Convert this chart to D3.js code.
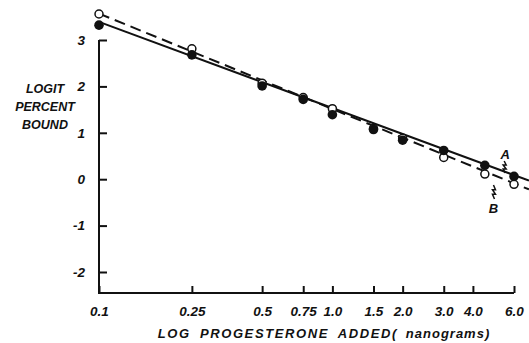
<!DOCTYPE html>
<html>
<head>
<meta charset="utf-8">
<script src="https://cdn.jsdelivr.net/npm/d3@7"></script>
<style>
  body { margin: 0; background: #fff; }
  text { font-family: "Liberation Sans", Arial, sans-serif; font-weight: bold; font-style: italic; fill: #111; }
</style>
</head>
<body>
<div id="chart"></div>
<script>
// doses (ng) and logit values
var doses = [0.1, 0.25, 0.5, 0.75, 1.0, 1.5, 2.0, 3.0, 4.5, 6.0];
var seriesA = [3.32, 2.68, 2.01, 1.72, 1.39, 1.07, 0.84, 0.62, 0.30, 0.06]; // filled
var seriesB = [3.56, 2.81, 2.07, 1.76, 1.52, 1.09, 0.88, 0.47, 0.11, -0.11]; // open
var fitA = [[0.1, 3.39], [6.95, -0.03]];
var fitB = [[0.1, 3.57], [6.95, -0.22]];
var xTicks = [0.1, 0.25, 0.5, 0.75, 1.0, 1.5, 2.0, 3.0, 4.0, 6.0];
var xTickLabels = ["0.1", "0.25", "0.5", "0.75", "1.0", "1.5", "2.0", "3.0", "4.0", "6.0"];
var yTicks = [3, 2, 1, 0, -1, -2];
var yTickLabels = ["3", "2", "1", "0", "-1", "-2"];

var W = 529, H = 343;
var svg = d3.select("#chart").append("svg").attr("width", W).attr("height", H);

var x = d3.scaleLog().domain([0.1, 6]).range([99, 514]);
var y = d3.scaleLinear().domain([-2, 3]).range([272, 40]);
var yBottom = 293;

// axes
var gx = svg.append("g").attr("transform", "translate(0," + yBottom + ")");
gx.call(d3.axisBottom(x).tickValues(xTicks).tickSize(-7).tickFormat(function (d, i) { return xTickLabels[i]; }).tickPadding(12));
var gy = svg.append("g").attr("transform", "translate(99,0)");
gy.call(d3.axisLeft(y).tickValues(yTicks).tickSize(-8).tickFormat(function (d, i) { return yTickLabels[i]; }).tickPadding(14));

[gx, gy].forEach(function (g) {
  g.select(".domain").remove();
  g.selectAll(".tick line").attr("stroke", "#111").attr("stroke-width", 2);
  g.selectAll(".tick text").attr("font-size", 13.5).style("font-family", "Liberation Sans, Arial, sans-serif");
});
gx.selectAll(".tick text").attr("dy", "0.85em");

// frame lines (L shape)
svg.append("path")
  .attr("d", "M99," + y(3) + "V" + yBottom + "H" + x(6))
  .attr("fill", "none").attr("stroke", "#111").attr("stroke-width", 2);

// fit lines
var line = d3.line().x(function (d) { return x(d[0]); }).y(function (d) { return y(d[1]); });
svg.append("path").datum(fitA).attr("d", line).attr("fill", "none").attr("stroke", "#111").attr("stroke-width", 2);
svg.append("path").datum(fitB).attr("d", line).attr("fill", "none").attr("stroke", "#111")
  .attr("stroke-width", 2).attr("stroke-dasharray", "11,6");

// points: open first, filled on top
svg.selectAll(".pb").data(doses).enter().append("circle")
  .attr("cx", function (d) { return x(d); })
  .attr("cy", function (d, i) { return y(seriesB[i]); })
  .attr("r", 4).attr("fill", "#fff").attr("stroke", "#111").attr("stroke-width", 1.5);
svg.selectAll(".pa").data(doses).enter().append("circle")
  .attr("cx", function (d) { return x(d); })
  .attr("cy", function (d, i) { return y(seriesA[i]); })
  .attr("r", 4.8).attr("fill", "#111");

// labels A / B with squiggle arrows
function squiggle(x0, y0, len) {
  var h = len / 3;
  return "M" + x0 + "," + y0 + " l2," + h + " l-3,0 l3," + h + " l-3,0 l2," + h;
}
var ax = x(5.5);
svg.append("text").attr("x", ax).attr("y", 159).attr("font-size", 13).attr("text-anchor", "middle").text("A");
svg.append("path").attr("d", squiggle(ax - 1, 161, 12)).attr("fill", "none").attr("stroke", "#111").attr("stroke-width", 1.5);
var bx = x(4.9);
svg.append("text").attr("x", bx).attr("y", 213).attr("font-size", 13).attr("text-anchor", "middle").text("B");
svg.append("path").attr("d", squiggle(bx, 185, 14)).attr("fill", "none").attr("stroke", "#111").attr("stroke-width", 1.5);

// axis titles
var yt = svg.append("text").attr("x", 45).attr("font-size", 12.5).attr("text-anchor", "middle");
["LOGIT", "PERCENT", "BOUND"].forEach(function (s, i) {
  yt.append("tspan").attr("x", 45).attr("y", 93 + i * 18).text(s);
});
var xt = svg.append("text").attr("x", 324).attr("y", 338).attr("font-size", 13).attr("text-anchor", "middle")
  .attr("letter-spacing", 1.6).attr("word-spacing", 4);
xt.append("tspan").text("LOG PROGESTERONE ADDED");
xt.append("tspan").attr("letter-spacing", 1).text("( nanograms)");
</script>
</body>
</html>
